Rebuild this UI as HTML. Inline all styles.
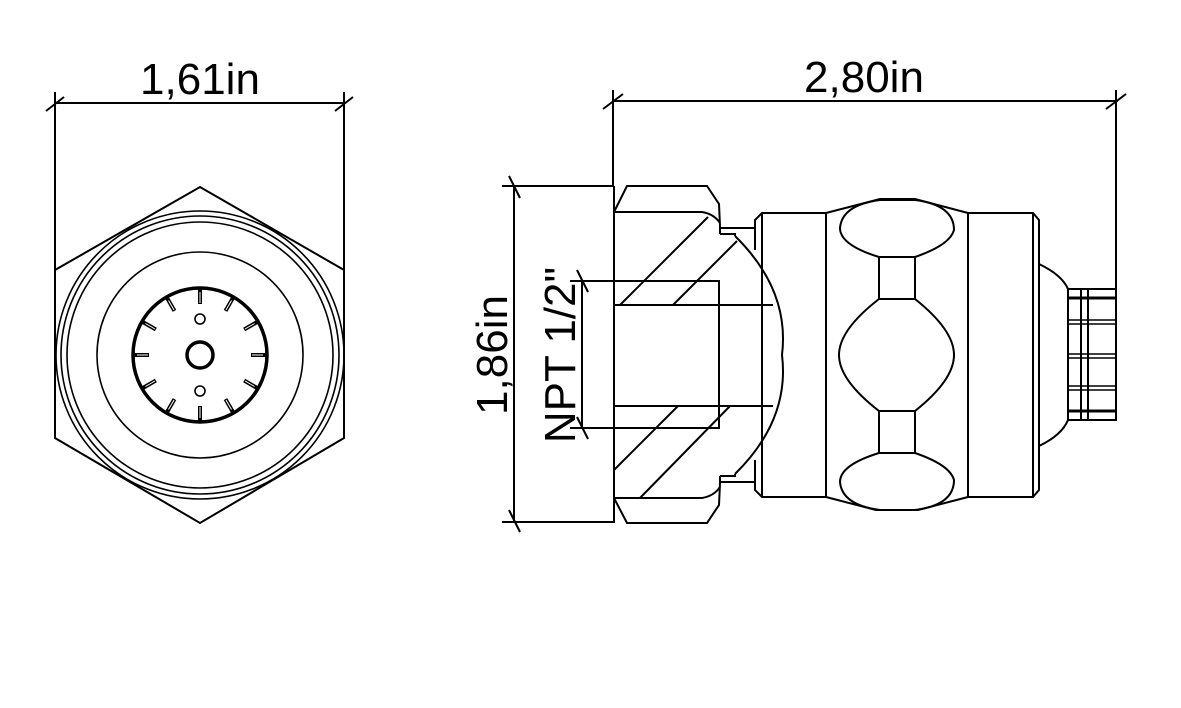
<!DOCTYPE html>
<html><head><meta charset="utf-8"><style>
html,body{margin:0;padding:0;background:#fff;}
svg{display:block;}
text{font-family:"Liberation Sans",sans-serif;fill:#000;}
</style></head><body>
<svg width="1181" height="708" viewBox="0 0 1181 708" xmlns="http://www.w3.org/2000/svg">
<g fill="none" stroke="#000" stroke-width="2">
<line x1="54" y1="103" x2="345" y2="103"/>
<line x1="55" y1="92" x2="55" y2="270"/>
<line x1="344" y1="92" x2="344" y2="270"/>
<line x1="46" y1="111" x2="64" y2="97"/>
<line x1="335" y1="111" x2="353" y2="97"/>
<polygon points="200,187 344,270 344,438 200,523 55,438 55,270"/>
<circle cx="200" cy="355" r="144" stroke-width="1.6"/>
<circle cx="200" cy="355" r="139" stroke-width="1.6"/>
<circle cx="200" cy="355" r="133" stroke-width="1.6"/>
<circle cx="200" cy="355" r="103" stroke-width="1.6"/>
<circle cx="200" cy="355" r="67" stroke-width="3.5"/>
<circle cx="200" cy="355" r="13" stroke-width="3.5"/>
<circle cx="200" cy="319" r="5" stroke-width="1.6"/>
<circle cx="200" cy="391" r="5" stroke-width="1.6"/>
<g stroke-width="4"><line x1="200" y1="289" x2="200" y2="304" transform="rotate(0 200 355)"/><line x1="200" y1="289" x2="200" y2="304" transform="rotate(30 200 355)"/><line x1="200" y1="289" x2="200" y2="304" transform="rotate(60 200 355)"/><line x1="200" y1="289" x2="200" y2="304" transform="rotate(90 200 355)"/><line x1="200" y1="289" x2="200" y2="304" transform="rotate(120 200 355)"/><line x1="200" y1="289" x2="200" y2="304" transform="rotate(150 200 355)"/><line x1="200" y1="289" x2="200" y2="304" transform="rotate(180 200 355)"/><line x1="200" y1="289" x2="200" y2="304" transform="rotate(210 200 355)"/><line x1="200" y1="289" x2="200" y2="304" transform="rotate(240 200 355)"/><line x1="200" y1="289" x2="200" y2="304" transform="rotate(270 200 355)"/><line x1="200" y1="289" x2="200" y2="304" transform="rotate(300 200 355)"/><line x1="200" y1="289" x2="200" y2="304" transform="rotate(330 200 355)"/></g>
<g stroke="#fff" stroke-width="1"><line x1="200" y1="292" x2="200" y2="303" transform="rotate(0 200 355)"/><line x1="200" y1="292" x2="200" y2="303" transform="rotate(30 200 355)"/><line x1="200" y1="292" x2="200" y2="303" transform="rotate(60 200 355)"/><line x1="200" y1="292" x2="200" y2="303" transform="rotate(90 200 355)"/><line x1="200" y1="292" x2="200" y2="303" transform="rotate(120 200 355)"/><line x1="200" y1="292" x2="200" y2="303" transform="rotate(150 200 355)"/><line x1="200" y1="292" x2="200" y2="303" transform="rotate(180 200 355)"/><line x1="200" y1="292" x2="200" y2="303" transform="rotate(210 200 355)"/><line x1="200" y1="292" x2="200" y2="303" transform="rotate(240 200 355)"/><line x1="200" y1="292" x2="200" y2="303" transform="rotate(270 200 355)"/><line x1="200" y1="292" x2="200" y2="303" transform="rotate(300 200 355)"/><line x1="200" y1="292" x2="200" y2="303" transform="rotate(330 200 355)"/></g>

<line x1="613" y1="101" x2="1118" y2="101"/>
<line x1="613" y1="90" x2="613" y2="186"/>
<line x1="1116" y1="90" x2="1116" y2="420"/>
<line x1="603" y1="109" x2="623" y2="94"/>
<line x1="1106" y1="109" x2="1126" y2="94"/>
<line x1="514" y1="186" x2="514" y2="522"/>
<line x1="502" y1="186" x2="614" y2="186"/>
<line x1="502" y1="522" x2="614" y2="522"/>
<line x1="509" y1="176" x2="520" y2="198"/>
<line x1="509" y1="510" x2="520" y2="532"/>
<line x1="582" y1="281" x2="582" y2="428"/>
<line x1="570" y1="281" x2="614" y2="281"/>
<line x1="570" y1="428" x2="614" y2="428"/>
<line x1="577" y1="270" x2="588" y2="292"/>
<line x1="577" y1="417" x2="588" y2="439"/>

<polyline points="614,212 627,186 707,186 719,204 720,226 720,234"/>
<polyline points="614,498 627,523 707,523 719,505 720,483 720,476"/>
<line x1="614" y1="186" x2="614" y2="523"/>
<path d="M614,212 H702 Q714,214 720,223"/>
<path d="M614,498 H702 Q714,496 720,487"/>
<line x1="720" y1="228" x2="755" y2="228"/>
<line x1="720" y1="482" x2="755" y2="482"/>
<polyline points="720,234 735,234 735,236"/>
<polyline points="720,476 735,476 735,474"/>
<path d="M735,236 Q790,290 782,355 Q790,420 735,474"/>
<rect x="614" y="281" width="105" height="147"/>
<line x1="614" y1="305" x2="773" y2="305"/>
<line x1="614" y1="406" x2="773" y2="406"/>
<line x1="620" y1="305" x2="708" y2="217"/>
<line x1="673" y1="305" x2="737" y2="241"/>
<line x1="614" y1="470" x2="678" y2="406"/>
<line x1="640" y1="498" x2="730" y2="406"/>

<polyline points="755,228 755,220 762,213 826,213"/>
<polyline points="755,482 755,490 762,497 826,497"/>
<line x1="762" y1="213" x2="762" y2="497"/>
<line x1="755" y1="228" x2="755" y2="250"/>
<line x1="755" y1="460" x2="755" y2="482"/>
<line x1="826" y1="213" x2="826" y2="497"/>
<line x1="968" y1="213" x2="968" y2="497"/>
<polyline points="826,213 880,199 915,199 968,213"/>
<polyline points="826,497 876,510 918,510 968,497"/>
<polyline points="968,213 1033,213 1039,220 1039,490 1033,497 968,497"/>
<line x1="1033" y1="213" x2="1033" y2="497"/>
<path d="M879,257 Q840,245 840,228 Q842,205 880,200 L915,200 Q954,205 954,230 Q950,245 915,257 Z"/>
<path d="M879,453 Q840,465 840,482 Q842,505 880,510 L915,510 Q954,505 954,480 Q950,465 915,453 Z"/>
<rect x="879" y="257" width="36" height="42"/>
<rect x="879" y="411" width="36" height="42"/>
<path d="M879,299 Q839,330 839,355 Q839,380 879,411 L915,411 Q954,380 954,355 Q954,330 915,299 Z"/>
<path d="M1039,264 Q1062,275 1068,289"/>
<path d="M1039,446 Q1062,435 1068,420"/>
<rect x="1068" y="289" width="48" height="131"/>
<line x1="1081" y1="289" x2="1081" y2="420"/>
<line x1="1088" y1="289" x2="1088" y2="420"/>
<g stroke-width="1.5">
<line x1="1068" y1="298" x2="1116" y2="298" stroke-width="3"/>
<line x1="1068" y1="320" x2="1116" y2="320"/><line x1="1068" y1="324" x2="1116" y2="324"/>
<line x1="1068" y1="354" x2="1116" y2="354"/><line x1="1068" y1="358" x2="1116" y2="358"/>
<line x1="1068" y1="386" x2="1116" y2="386"/><line x1="1068" y1="390" x2="1116" y2="390"/>
<line x1="1068" y1="411" x2="1116" y2="411" stroke-width="3"/>
</g>
</g>
<text x="200" y="94" font-size="44" text-anchor="middle">1,61in</text>
<text x="864" y="92" font-size="44" text-anchor="middle">2,80in</text>
<text transform="translate(507,355) rotate(-90)" font-size="44" text-anchor="middle">1,86in</text>
<text transform="translate(575,355) rotate(-90)" font-size="44" text-anchor="middle">NPT 1/2"</text>
</svg>
</body></html>
